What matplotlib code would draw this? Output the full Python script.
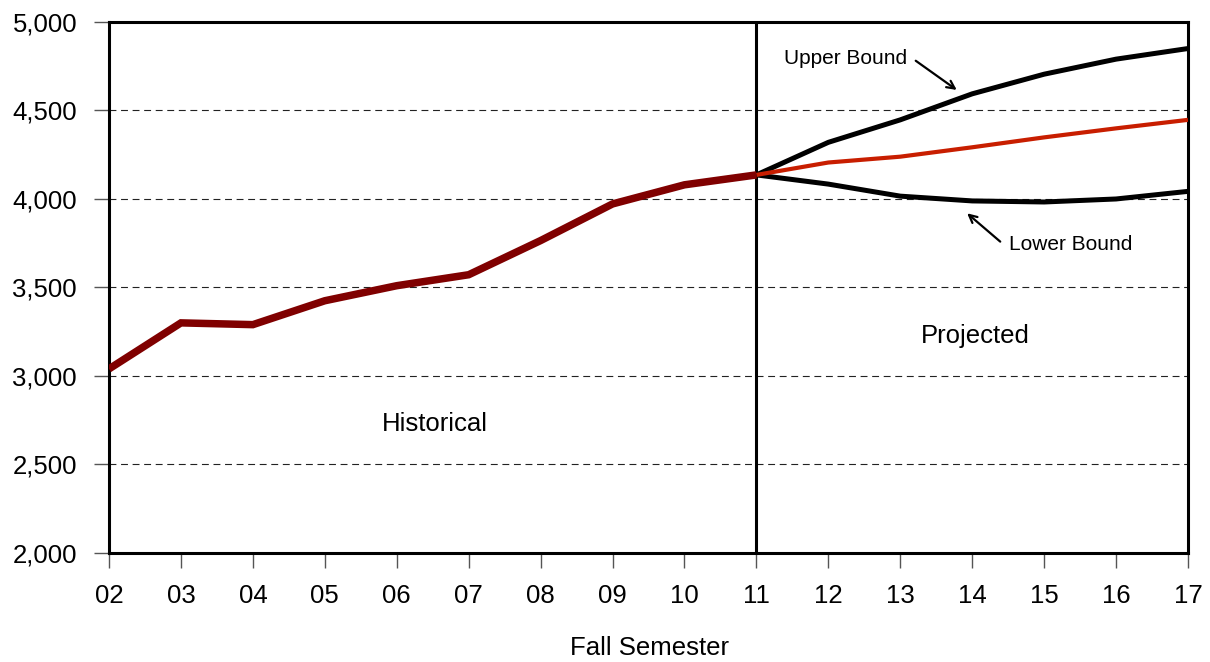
import matplotlib
matplotlib.use("Agg")
import matplotlib.pyplot as plt

plt.rcParams['font.family'] = ['Liberation Sans', 'DejaVu Sans']

years_hist = [2, 3, 4, 5, 6, 7, 8, 9, 10, 11]
hist = [3040, 3300, 3290, 3425, 3510, 3572, 3765, 3972, 4080, 4136]
years_proj = [11, 12, 13, 14, 15, 16, 17]
proj = [4136, 4206, 4239, 4292, 4348, 4399, 4447]
upper = [4136, 4320, 4447, 4594, 4705, 4790, 4850]
lower = [4136, 4084, 4016, 3989, 3983, 4000, 4043]
xtick_labels = ["02", "03", "04", "05", "06", "07", "08", "09", "10", "11",
                "12", "13", "14", "15", "16", "17"]
yticks = [2000, 2500, 3000, 3500, 4000, 4500, 5000]

fig = plt.figure(figsize=(12.1, 6.62), dpi=100)
ax = fig.add_axes([0.0901, 0.1647, 0.8917, 0.8021])

ax.set_xlim(2, 17)
ax.set_ylim(2000, 5000)

for yv in yticks[1:-1]:
    ax.axhline(yv, color='#222222', lw=0.8, ls=(0, (6.2, 4.2)), zorder=1)

ax.axvline(11, color='black', lw=2.2, zorder=2)

ax.plot(years_proj, upper, color='black', lw=3.6, solid_capstyle='butt', zorder=3)
ax.plot(years_proj, lower, color='black', lw=3.6, solid_capstyle='butt', zorder=3)
ax.plot(years_proj, proj, color='#C81E00', lw=3.0, solid_capstyle='butt', zorder=4)
ax.plot(years_hist, hist, color='#800000', lw=5.4, solid_capstyle='butt',
        solid_joinstyle='miter', zorder=5)

ax.set_xticks(range(2, 18))
ax.set_xticklabels(xtick_labels)
ax.set_yticks(yticks)
ax.set_yticklabels([f"{v:,}" for v in yticks])

ax.tick_params(axis='both', direction='out', length=11, width=1.0,
               color='#555555', labelsize=18.5, labelcolor='black')
ax.tick_params(axis='y', pad=12)
ax.tick_params(axis='x', pad=11)

for s in ax.spines.values():
    s.set_linewidth(2.2)
    s.set_color('black')

ax.text(6.53, 2729, "Historical", fontsize=18.5, ha='center', va='center')
ax.text(14.05, 3228, "Projected", fontsize=18.5, ha='center', va='center')

ax.annotate("", xy=(13.785, 4616), xytext=(13.215, 4781),
            arrowprops=dict(arrowstyle='->', lw=1.6, color='black',
                            mutation_scale=14, shrinkA=0, shrinkB=0))
ax.text(12.24, 4793, "Upper Bound", fontsize=15, ha='center', va='center')

ax.annotate("", xy=(13.93, 3919), xytext=(14.39, 3759),
            arrowprops=dict(arrowstyle='->', lw=1.6, color='black',
                            mutation_scale=14, shrinkA=0, shrinkB=0))
ax.text(15.37, 3742, "Lower Bound", fontsize=15, ha='center', va='center')

fig.text(650 / 1210, 1 - 648 / 662, "Fall Semester", fontsize=18.5,
         ha='center', va='center')

fig.savefig("out.png", dpi=100)
